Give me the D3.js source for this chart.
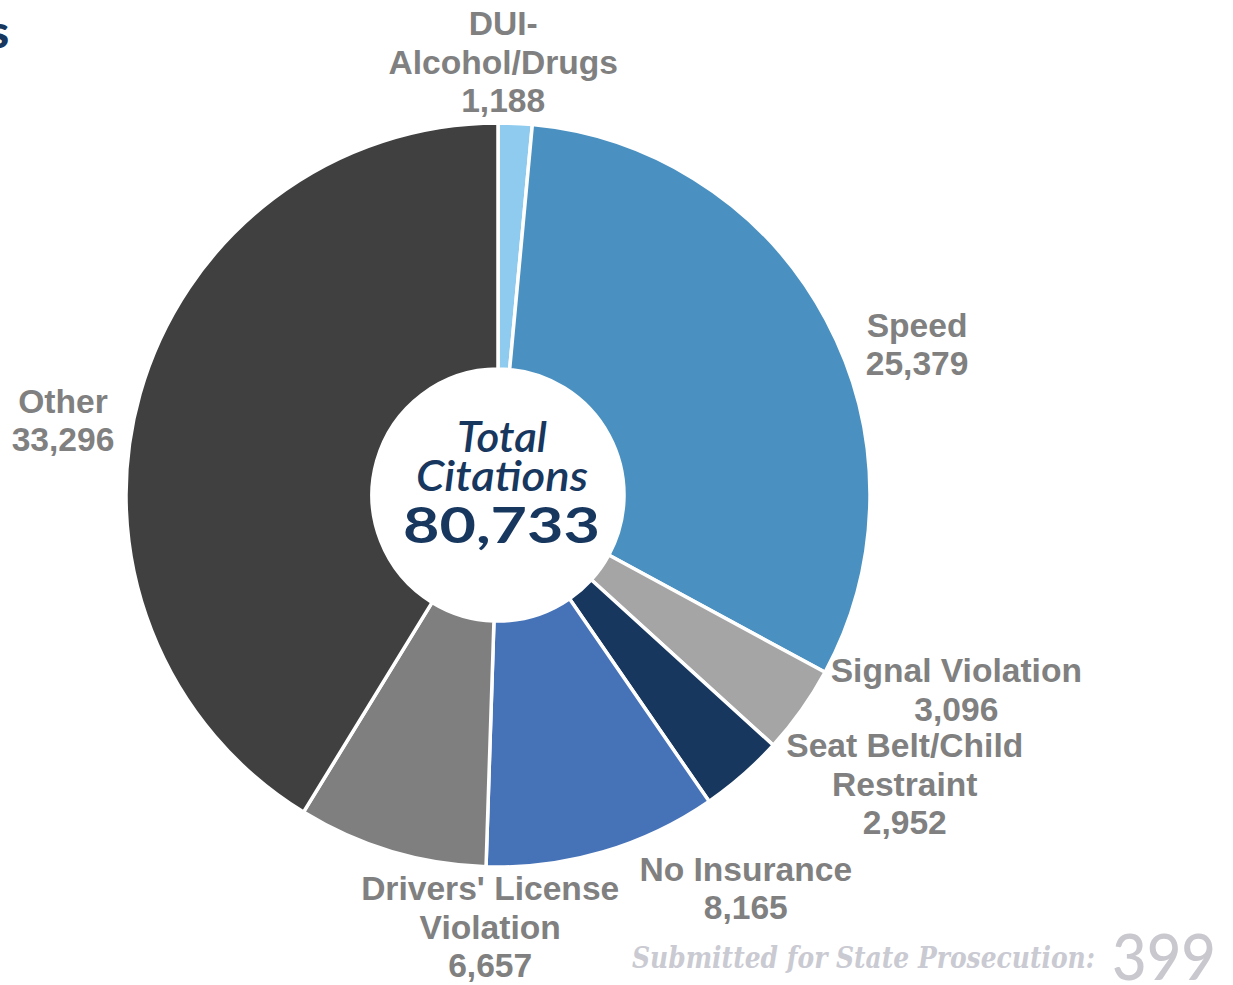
<!DOCTYPE html>
<html>
<head>
<meta charset="utf-8">
<script src="https://cdn.jsdelivr.net/npm/d3@7"></script>
<style>
  html, body { margin: 0; padding: 0; background: #fff; }
  svg { display: block; }
</style>
</head>
<body>
<svg id="chart" width="1233" height="985"></svg>
<script>
// ---- data ----
const categories = ["DUI-Alcohol/Drugs", "Speed", "Signal Violation", "Seat Belt/Child Restraint", "No Insurance", "Drivers' License Violation", "Other"];
const labelLines = [["DUI-", "Alcohol/Drugs"], ["Speed"], ["Signal Violation"], ["Seat Belt/Child", "Restraint"], ["No Insurance"], ["Drivers' License", "Violation"], ["Other"]];
const values = [1188, 25379, 3096, 2952, 8165, 6657, 33296];
const colors = ["#8FCBEE", "#4A91C1", "#A5A5A5", "#17375E", "#4672B8", "#7F7F7F", "#404040"];
const totalLabel = ["Total", "Citations"];
const prosecutionLabel = "Submitted for State Prosecution:";
const prosecutionValue = 399;

// ---- layout ----
const W = 1233, H = 985;
const cx = 498, cy = 495, R = 372, r0 = 126;
// label offsets (text centre x, first baseline) relative to the slice's outer-edge midpoint
const labelOffsets = [[-12, -88], [91, 17], [155, -28], [162, -18], [143, 29], [99, 49], [-77, 19]];
const lineH = 38.5;
const fmt = d3.format(",");

const svg = d3.select("#chart");

// cut-off title fragment
svg.append("text").attr("x", 9).attr("y", 48).attr("text-anchor", "end")
  .attr("font-family", "Lato, 'Open Sans', sans-serif").attr("font-weight", 900)
  .attr("font-size", 46).attr("fill", "#17375E").text("s");

const total = d3.sum(values);
const pie = d3.pie().sort(null).value(d => d)(values);
const arc = d3.arc().innerRadius(r0).outerRadius(R);

const g = svg.append("g").attr("transform", `translate(${cx},${cy})`);
g.selectAll("path.slice").data(pie).join("path")
  .attr("class", "slice")
  .attr("d", arc)
  .attr("fill", (d, i) => colors[i])
  .attr("stroke", "#fff")
  .attr("stroke-width", 3.5)
  .attr("stroke-linejoin", "miter");

// labels
const edge = d3.arc().innerRadius(R).outerRadius(R);
pie.forEach((d, i) => {
  const [ex, ey] = edge.centroid(d);
  const x = cx + ex + labelOffsets[i][0];
  const y0 = cy + ey + labelOffsets[i][1];
  const lines = labelLines[i].concat([fmt(values[i])]);
  const t = svg.append("text")
    .attr("text-anchor", "middle")
    .attr("font-family", "'Liberation Sans', Arial, sans-serif")
    .attr("font-weight", "bold")
    .attr("font-size", 33.6)
    .attr("fill", "#808080");
  lines.forEach((ln, k) => {
    t.append("tspan").attr("x", x).attr("y", y0 + k * lineH).text(ln);
  });
});

// centre text
const centreFont = "Lato, 'Open Sans', sans-serif";
svg.append("text").attr("x", 502).attr("y", 452).attr("text-anchor", "middle")
  .attr("font-family", centreFont).attr("font-style", "italic").attr("font-weight", 600)
  .attr("font-size", 42).attr("fill", "#17375E")
  .attr("textLength", 90).attr("lengthAdjust", "spacingAndGlyphs").text(totalLabel[0]);
svg.append("text").attr("x", 502).attr("y", 491).attr("text-anchor", "middle")
  .attr("font-family", centreFont).attr("font-style", "italic").attr("font-weight", 600)
  .attr("font-size", 42).attr("fill", "#17375E")
  .attr("textLength", 172).attr("lengthAdjust", "spacingAndGlyphs").text(totalLabel[1]);
svg.append("text").attr("x", 501.5).attr("y", 543).attr("text-anchor", "middle")
  .attr("font-family", centreFont).attr("font-weight", 700)
  .attr("font-size", 50).attr("fill", "#17375E")
  .attr("textLength", 197).attr("lengthAdjust", "spacingAndGlyphs").text(fmt(total));

// prosecution note
svg.append("text").attr("x", 632).attr("y", 968)
  .attr("font-family", "'DejaVu Serif', serif").attr("font-style", "italic").attr("font-weight", "bold")
  .attr("font-size", 30).attr("fill", "#CACAD2")
  .attr("textLength", 463).attr("lengthAdjust", "spacingAndGlyphs").text(prosecutionLabel);
svg.append("text").attr("x", 1112).attr("y", 980)
  .attr("font-family", "Lato, sans-serif").attr("font-weight", 500)
  .attr("font-size", 63).attr("fill", "#C8C8CE")
  .attr("textLength", 104).attr("lengthAdjust", "spacingAndGlyphs").text(prosecutionValue);
</script>
</body>
</html>
